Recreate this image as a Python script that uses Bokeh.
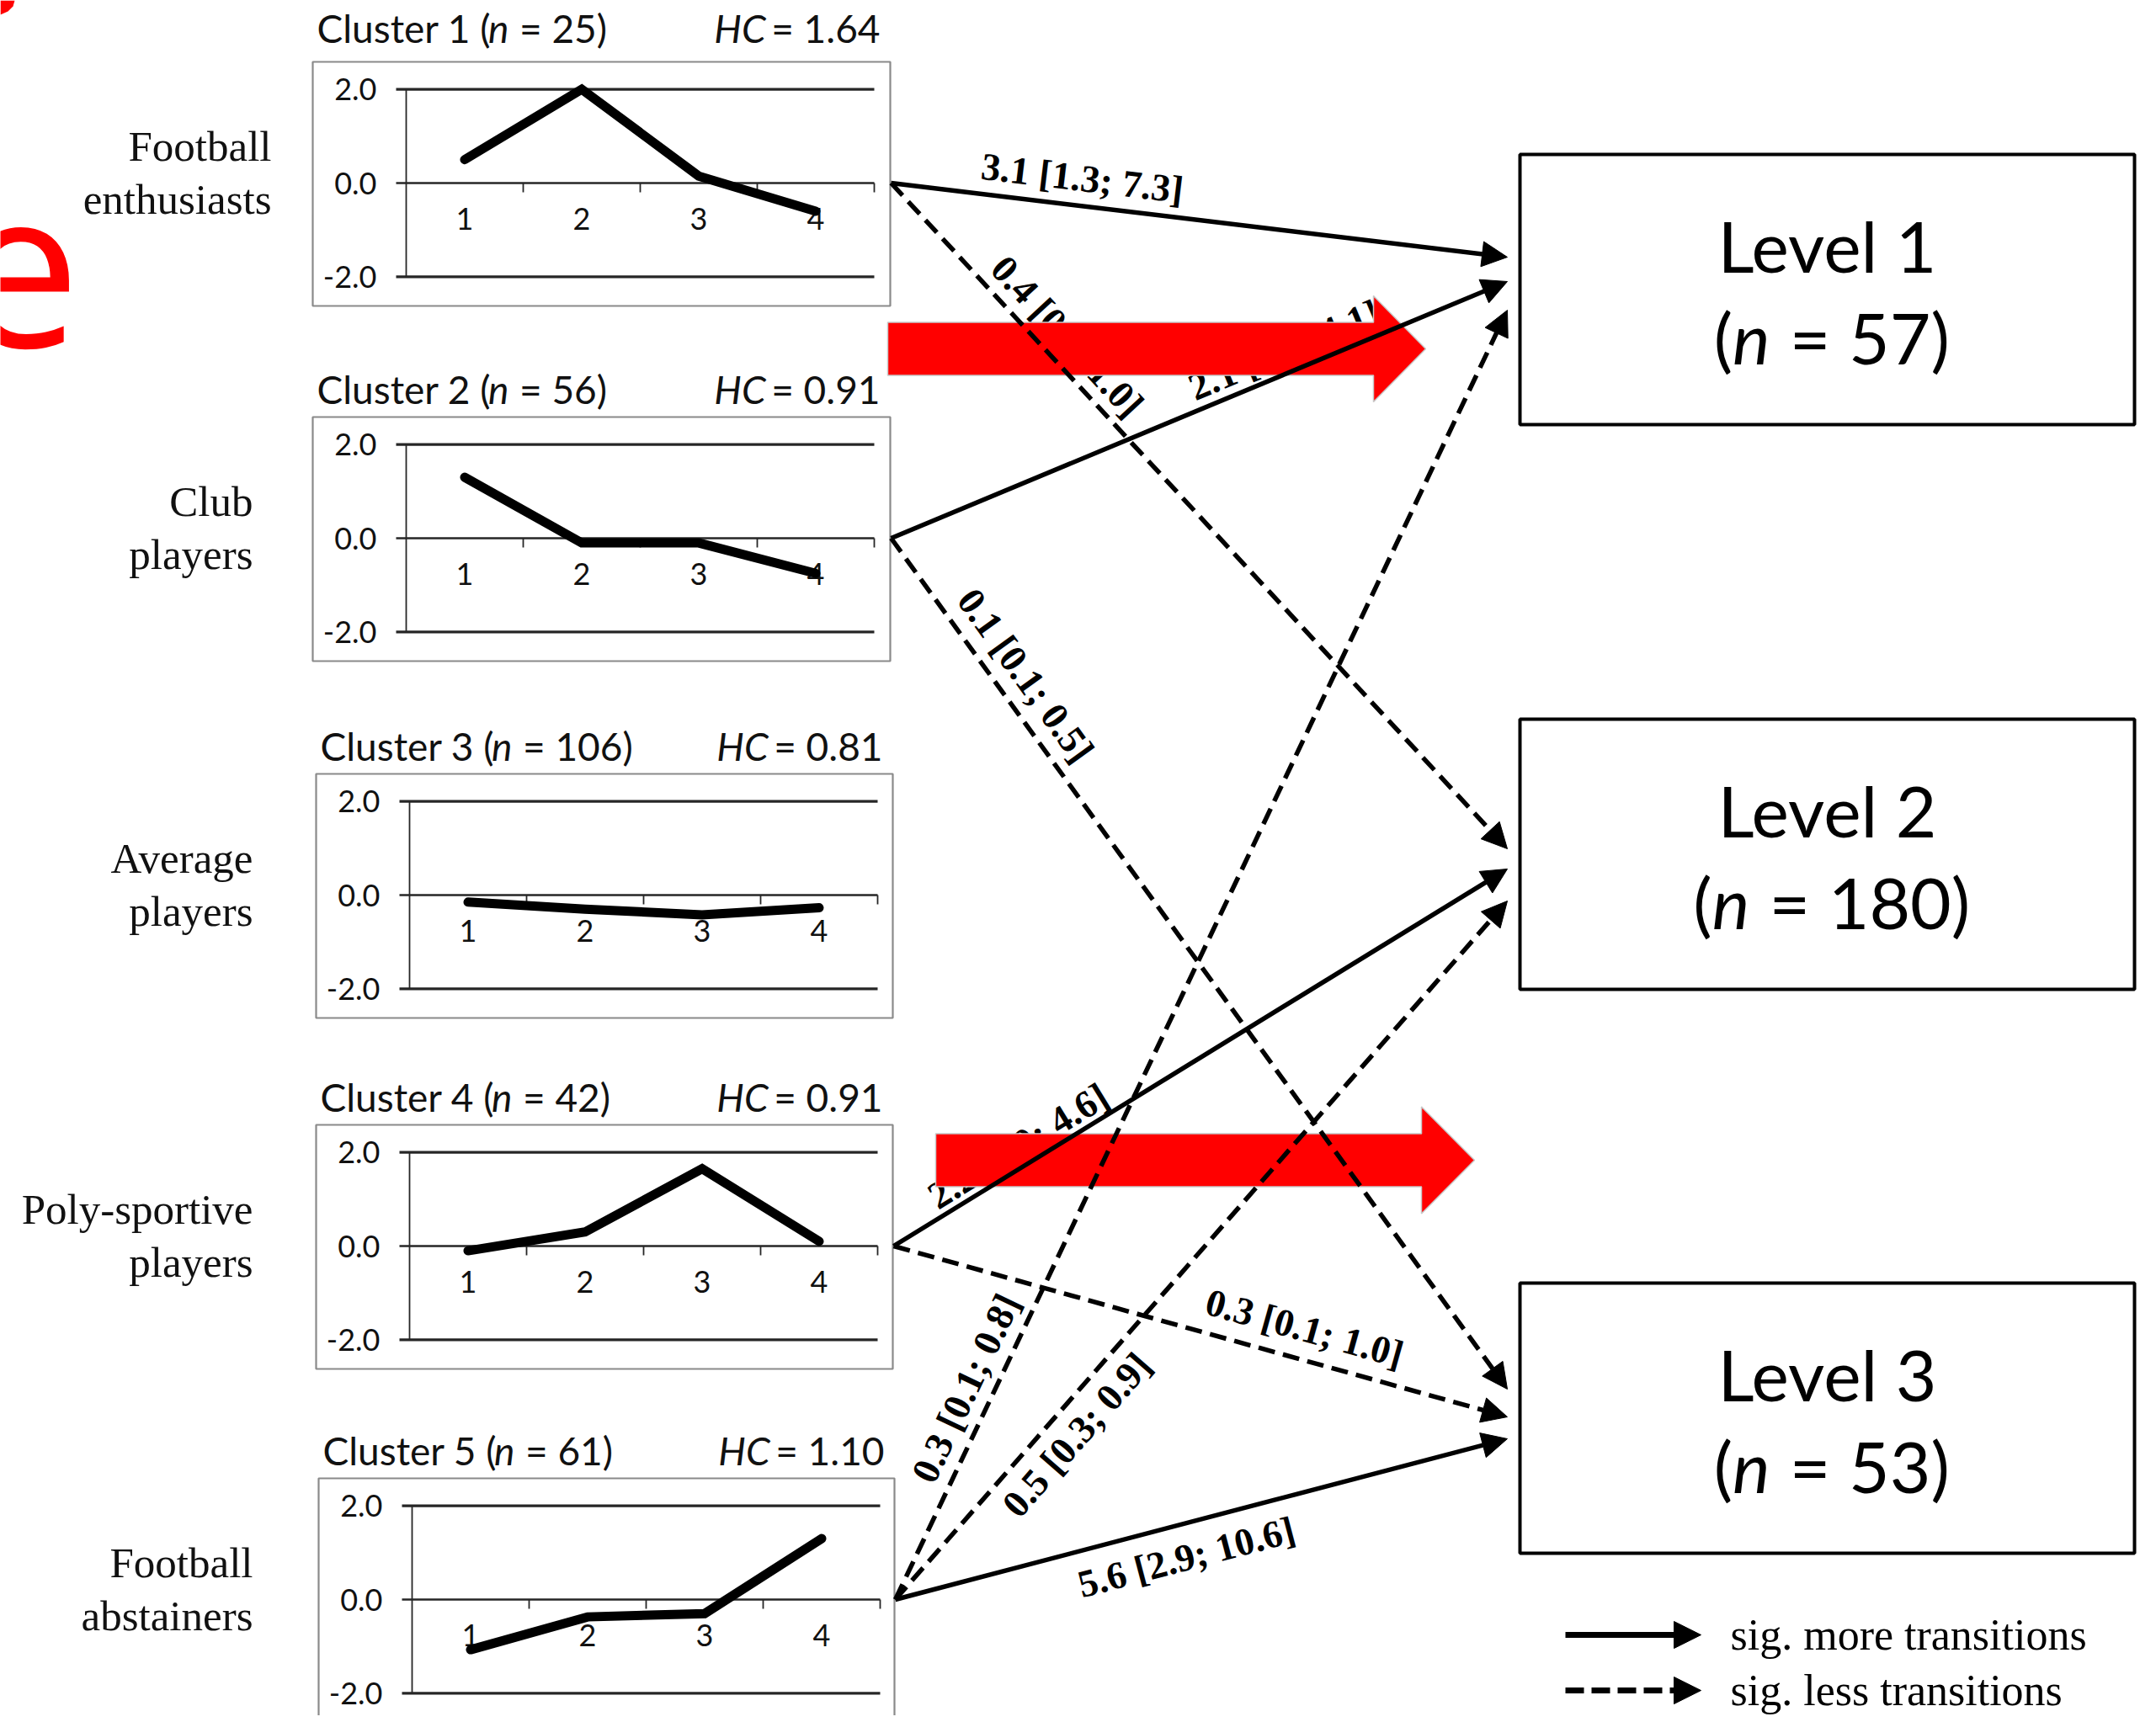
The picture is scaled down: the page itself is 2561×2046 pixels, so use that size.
import math
from bokeh.plotting import figure
from bokeh.models import Range1d, Arrow, NormalHead, ColumnDataSource
from bokeh.core.properties import value
from bokeh.embed import file_html
from bokeh.resources import INLINE

# ---------------- data ----------------
cluster_ids = [1, 2, 3, 4, 5]
cluster_n = [25, 56, 106, 42, 61]
cluster_hc = ["1.64", "0.91", "0.81", "0.91", "1.10"]
cluster_names = [["Football", "enthusiasts"], ["Club", "players"], ["Average", "players"],
                 ["Poly-sportive", "players"], ["Football", "abstainers"]]
time_points = [1, 2, 3, 4]
profile_c1 = [0.5, 2.0, 0.15, -0.6]
profile_c2 = [1.3, -0.1, -0.1, -0.75]
profile_c3 = [-0.15, -0.3, -0.42, -0.27]
profile_c4 = [-0.1, 0.3, 1.65, 0.1]
profile_c5 = [-1.07, -0.37, -0.3, 1.3]
profiles = [profile_c1, profile_c2, profile_c3, profile_c4, profile_c5]
y_ticks = [2.0, 0.0, -2.0]
y_tick_labels = ["2.0", "0.0", "-2.0"]
x_tick_labels = ["1", "2", "3", "4"]
levels = ["Level 1", "Level 2", "Level 3"]
level_n = [57, 180, 53]
trans_from = [1, 1, 2, 2, 4, 4, 5, 5, 5]
trans_to = [1, 2, 1, 3, 2, 3, 1, 2, 3]
trans_label = ["3.1 [1.3; 7.3]", "0.4 [0.2; 1.0]", "2.1 [1.1; 4.1]", "0.1 [0.1; 0.5]",
               "2.2 [1.0; 4.6]", "0.3 [0.1; 1.0]", "0.3 [0.1; 0.8]", "0.5 [0.3; 0.9]",
               "5.6 [2.9; 10.6]"]
trans_more = [True, False, True, False, True, False, False, False, True]
legend_labels = ["sig. more transitions", "sig. less transitions"]

# ---------------- layout (reference pixel space) ----------------
X0, X1, Y0, Y1 = 0, 2553, 2038, 0
PANEL_ZERO = [217, 639, 1063, 1480, 1900]
PANEL_LEFT = [371, 371, 375, 375, 378]
PANEL_RIGHT = [1057, 1057, 1060, 1060, 1062]
UNIT = 55.7
CAT = 139.0
AXIS_DX = 111
BOX_UP, BOX_DOWN = 144, 146
TITLE_DY = [40, 33, 33, 33, 33]
NAME_RIGHT = [322, 300, 300, 300, 300]
NAME_DY = (-44, 19)
LEVEL_LEFT, LEVEL_RIGHT = 1805, 2535
LEVEL_TOP = [183, 854, 1524]
LEVEL_H = 321
TIP_X = 1790
TIP_Y = [305, 1008, 334, 1650, 1032, 1683, 368, 1070, 1709]
LABEL_T = [0.305, 0.256, 0.652, 0.181, 0.22, 0.656, 0.155, 0.262, 0.462]
LABEL_D = [33, 30, 27, 34, 24, 37, 32, -33, -39]

SANS = value("Lato")
SERIF = value("Liberation Serif")
NB = "\u00a0"

W = {' ': 0.193, NB: 0.193, '(': 0.3, ')': 0.3, '=': 0.58, '.': 0.245, ';': 0.28,
     'C': 0.67, 'l': 0.245, 'u': 0.552, 's': 0.43, 't': 0.362, 'e': 0.527, 'r': 0.37,
     'L': 0.487, 'v': 0.5, 'H': 0.75, 'n': 0.55}
def tw(s, size):
    return sum(W.get(c, 0.58) for c in s) * size

p = figure(width=2553, height=2038, x_range=Range1d(X0, X1), y_range=Range1d(Y0, Y1),
           output_backend="svg", toolbar_location=None, min_border=0,
           x_axis_type=None, y_axis_type=None, outline_line_color=None,
           background_fill_color="white", border_fill_color="white")
p.grid.visible = False

# ---------------- cluster panels ----------------
TFS = 46
for k in range(5):
    zero = PANEL_ZERO[k]
    left, right = PANEL_LEFT[k], PANEL_RIGHT[k]
    ax = left + AXIS_DX
    xn, yn = f"x{k}", f"y{k}"
    p.extra_y_ranges[yn] = Range1d(start=(zero - Y0) / UNIT, end=(zero - Y1) / UNIT)
    p.extra_x_ranges[xn] = Range1d(start=0.5 + (X0 - ax) / CAT, end=0.5 + (X1 - ax) / CAT)
    kw = dict(x_range_name=xn, y_range_name=yn)
    # frame box
    p.quad(left=[left], right=[right], top=[zero - BOX_UP], bottom=[zero + BOX_DOWN],
           fill_color=None, line_color="#8a8a8a", line_width=2.2)
    ext = 12 / CAT
    # gridlines and axis
    p.segment(x0=[0.5 - ext] * 3, x1=[4.5] * 3, y0=y_ticks, y1=y_ticks,
              line_color="#262626", line_width=[3.2, 2.4, 3.2], **kw)
    p.segment(x0=[0.5], x1=[0.5], y0=[-2.0], y1=[2.0], line_color="#262626", line_width=1.8, **kw)
    tick_len = 11 / UNIT
    p.segment(x0=[1.5, 2.5, 3.5, 4.5], x1=[1.5, 2.5, 3.5, 4.5], y0=[0] * 4, y1=[-tick_len] * 4,
              line_color="#262626", line_width=1.8, **kw)
    p.text(x=[0.5 - 35 / CAT] * 3, y=y_ticks, text=y_tick_labels, text_align="right",
           text_baseline="middle", text_font=SANS, text_font_size="36px", text_color="#111111", **kw)
    p.text(x=time_points, y=[-42 / UNIT] * 4, text=x_tick_labels, text_align="center",
           text_baseline="middle", text_font=SANS, text_font_size="36px", text_color="#111111", **kw)
    # profile line
    p.line(x=time_points, y=profiles[k], line_color="black", line_width=11,
           line_join="miter", line_cap="round", **kw)
    # title
    ty = zero - BOX_UP - TITLE_DY[k]
    tx = left + 5
    pre = f"Cluster {cluster_ids[k]} ("
    post = f"{NB}={NB}{cluster_n[k]})"
    xi = tx + tw(pre, TFS)
    p.text(x=[tx], y=[ty], text=[pre], text_align="left", text_baseline="middle",
           text_font=SANS, text_font_size=f"{TFS}px", text_color="#111111")
    p.text(x=[xi], y=[ty], text=["n"], text_align="left", text_baseline="middle",
           text_font=SANS, text_font_style="italic", text_font_size=f"{TFS}px", text_color="#111111")
    p.text(x=[xi + tw("n", TFS)], y=[ty], text=[post], text_align="left", text_baseline="middle",
           text_font=SANS, text_font_size=f"{TFS}px", text_color="#111111")
    hc_post = f"{NB}={NB}{cluster_hc[k]}"
    hx = right - 12
    p.text(x=[hx], y=[ty], text=[hc_post], text_align="right", text_baseline="middle",
           text_font=SANS, text_font_size=f"{TFS}px", text_color="#111111")
    p.text(x=[hx - tw(hc_post, TFS)], y=[ty], text=["HC"], text_align="right", text_baseline="middle",
           text_font=SANS, text_font_style="italic", text_font_size=f"{TFS}px", text_color="#111111")
    # group name
    p.text(x=[NAME_RIGHT[k]] * 2, y=[zero + NAME_DY[0], zero + NAME_DY[1]], text=cluster_names[k],
           text_align="right", text_baseline="middle", text_font=SERIF, text_font_size="51px",
           text_color="#111111")

# ---------------- level boxes ----------------
LFS = 84
for i in range(3):
    top = LEVEL_TOP[i]
    cx = (LEVEL_LEFT + LEVEL_RIGHT) / 2
    p.quad(left=[LEVEL_LEFT], right=[LEVEL_RIGHT], top=[top], bottom=[top + LEVEL_H],
           fill_color="white", line_color="black", line_width=4)
    p.text(x=[cx], y=[top + 108], text=[levels[i]], text_align="center", text_baseline="middle",
           text_font=SANS, text_font_size=f"{LFS}px", text_color="black")
    post = f"{NB}={NB}{level_n[i]})"
    total = tw("(", LFS) + tw("n", LFS) + tw(post, LFS)
    xn_ = cx - total / 2 + tw("(", LFS)
    ly = top + 217
    p.text(x=[xn_], y=[ly], text=["("], text_align="right", text_baseline="middle",
           text_font=SANS, text_font_size=f"{LFS}px", text_color="black")
    p.text(x=[xn_], y=[ly], text=["n"], text_align="left", text_baseline="middle",
           text_font=SANS, text_font_style="italic", text_font_size=f"{LFS}px", text_color="black")
    p.text(x=[xn_ + tw("n", LFS)], y=[ly], text=[post], text_align="left", text_baseline="middle",
           text_font=SANS, text_font_size=f"{LFS}px", text_color="black")

# ---------------- transition arrows ----------------
solid = dict(xs=[], ys=[], xe=[], ye=[])
dashed = dict(xs=[], ys=[], xe=[], ye=[])
lab = dict(x=[], y=[], text=[], angle=[])
for j in range(len(trans_from)):
    c = trans_from[j] - 1
    xs, ys = PANEL_RIGHT[c] + 1, PANEL_ZERO[c]
    xe, ye = TIP_X, TIP_Y[j]
    d = solid if trans_more[j] else dashed
    d["xs"].append(xs); d["ys"].append(ys); d["xe"].append(xe); d["ye"].append(ye)
    dx, dy = xe - xs, ye - ys
    L = math.hypot(dx, dy)
    nx, ny = dy / L, -dx / L
    t = LABEL_T[j]
    lab["x"].append(xs + t * dx + LABEL_D[j] * nx)
    lab["y"].append(ys + t * dy + LABEL_D[j] * ny)
    lab["text"].append(trans_label[j])
    lab["angle"].append(math.atan2(-dy, dx))

head = lambda s: NormalHead(size=s, fill_color="black", line_color="black", line_width=1)
p.add_layout(Arrow(end=head(30), source=ColumnDataSource(solid), x_start="xs", y_start="ys",
                   x_end="xe", y_end="ye", line_color="black", line_width=5.5))
p.add_layout(Arrow(end=head(30), source=ColumnDataSource(dashed), x_start="xs", y_start="ys",
                   x_end="xe", y_end="ye", line_color="black", line_width=5.5, line_dash="20 10"))
p.text(x="x", y="y", text="text", angle="angle", source=ColumnDataSource(lab),
       text_align="center", text_baseline="middle", text_font=SERIF, text_font_style="bold",
       text_font_size="46px", text_color="black")

# ---------------- legend ----------------
LEG_Y = [1942, 2008]
p.add_layout(Arrow(end=head(32), x_start=1859, y_start=LEG_Y[0], x_end=2020, y_end=LEG_Y[0],
                   line_color="black", line_width=7))
p.add_layout(Arrow(end=head(32), x_start=1859, y_start=LEG_Y[1], x_end=2020, y_end=LEG_Y[1],
                   line_color="black", line_width=7, line_dash="22 9"))
p.text(x=[2055, 2055], y=LEG_Y, text=legend_labels, text_align="left", text_baseline="middle",
       text_font=SERIF, text_font_size="52px", text_color="black")

# ---------------- red overlay marks ----------------
def red_arrow(xl, xb, xt, ym, hs, hh):
    return ([xl, xb, xb, xt, xb, xb, xl],
            [ym - hs, ym - hs, ym - hh, ym, ym + hh, ym + hs, ym + hs])
ra1 = red_arrow(1054, 1631, 1693, 414, 31.5, 63)
ra2 = red_arrow(1111, 1688, 1751, 1378, 31.5, 63.5)
p.patches(xs=[ra1[0], ra2[0]], ys=[ra1[1], ra2[1]], fill_color="#ff0000",
          line_color="#c8c8c8", line_width=1.5)
p.text(x=[-52], y=[318], text=["e"], text_align="left", text_baseline="alphabetic",
       text_font=value("Open Sans"), text_font_size="262px", text_color="#ff0000")
p.patch(x=[0, 17, 15, 9, 0], y=[0, 0, 7, 13, 17], fill_color="#ff0000", line_color=None)

open("out.html", "w").write(file_html(p, INLINE))
